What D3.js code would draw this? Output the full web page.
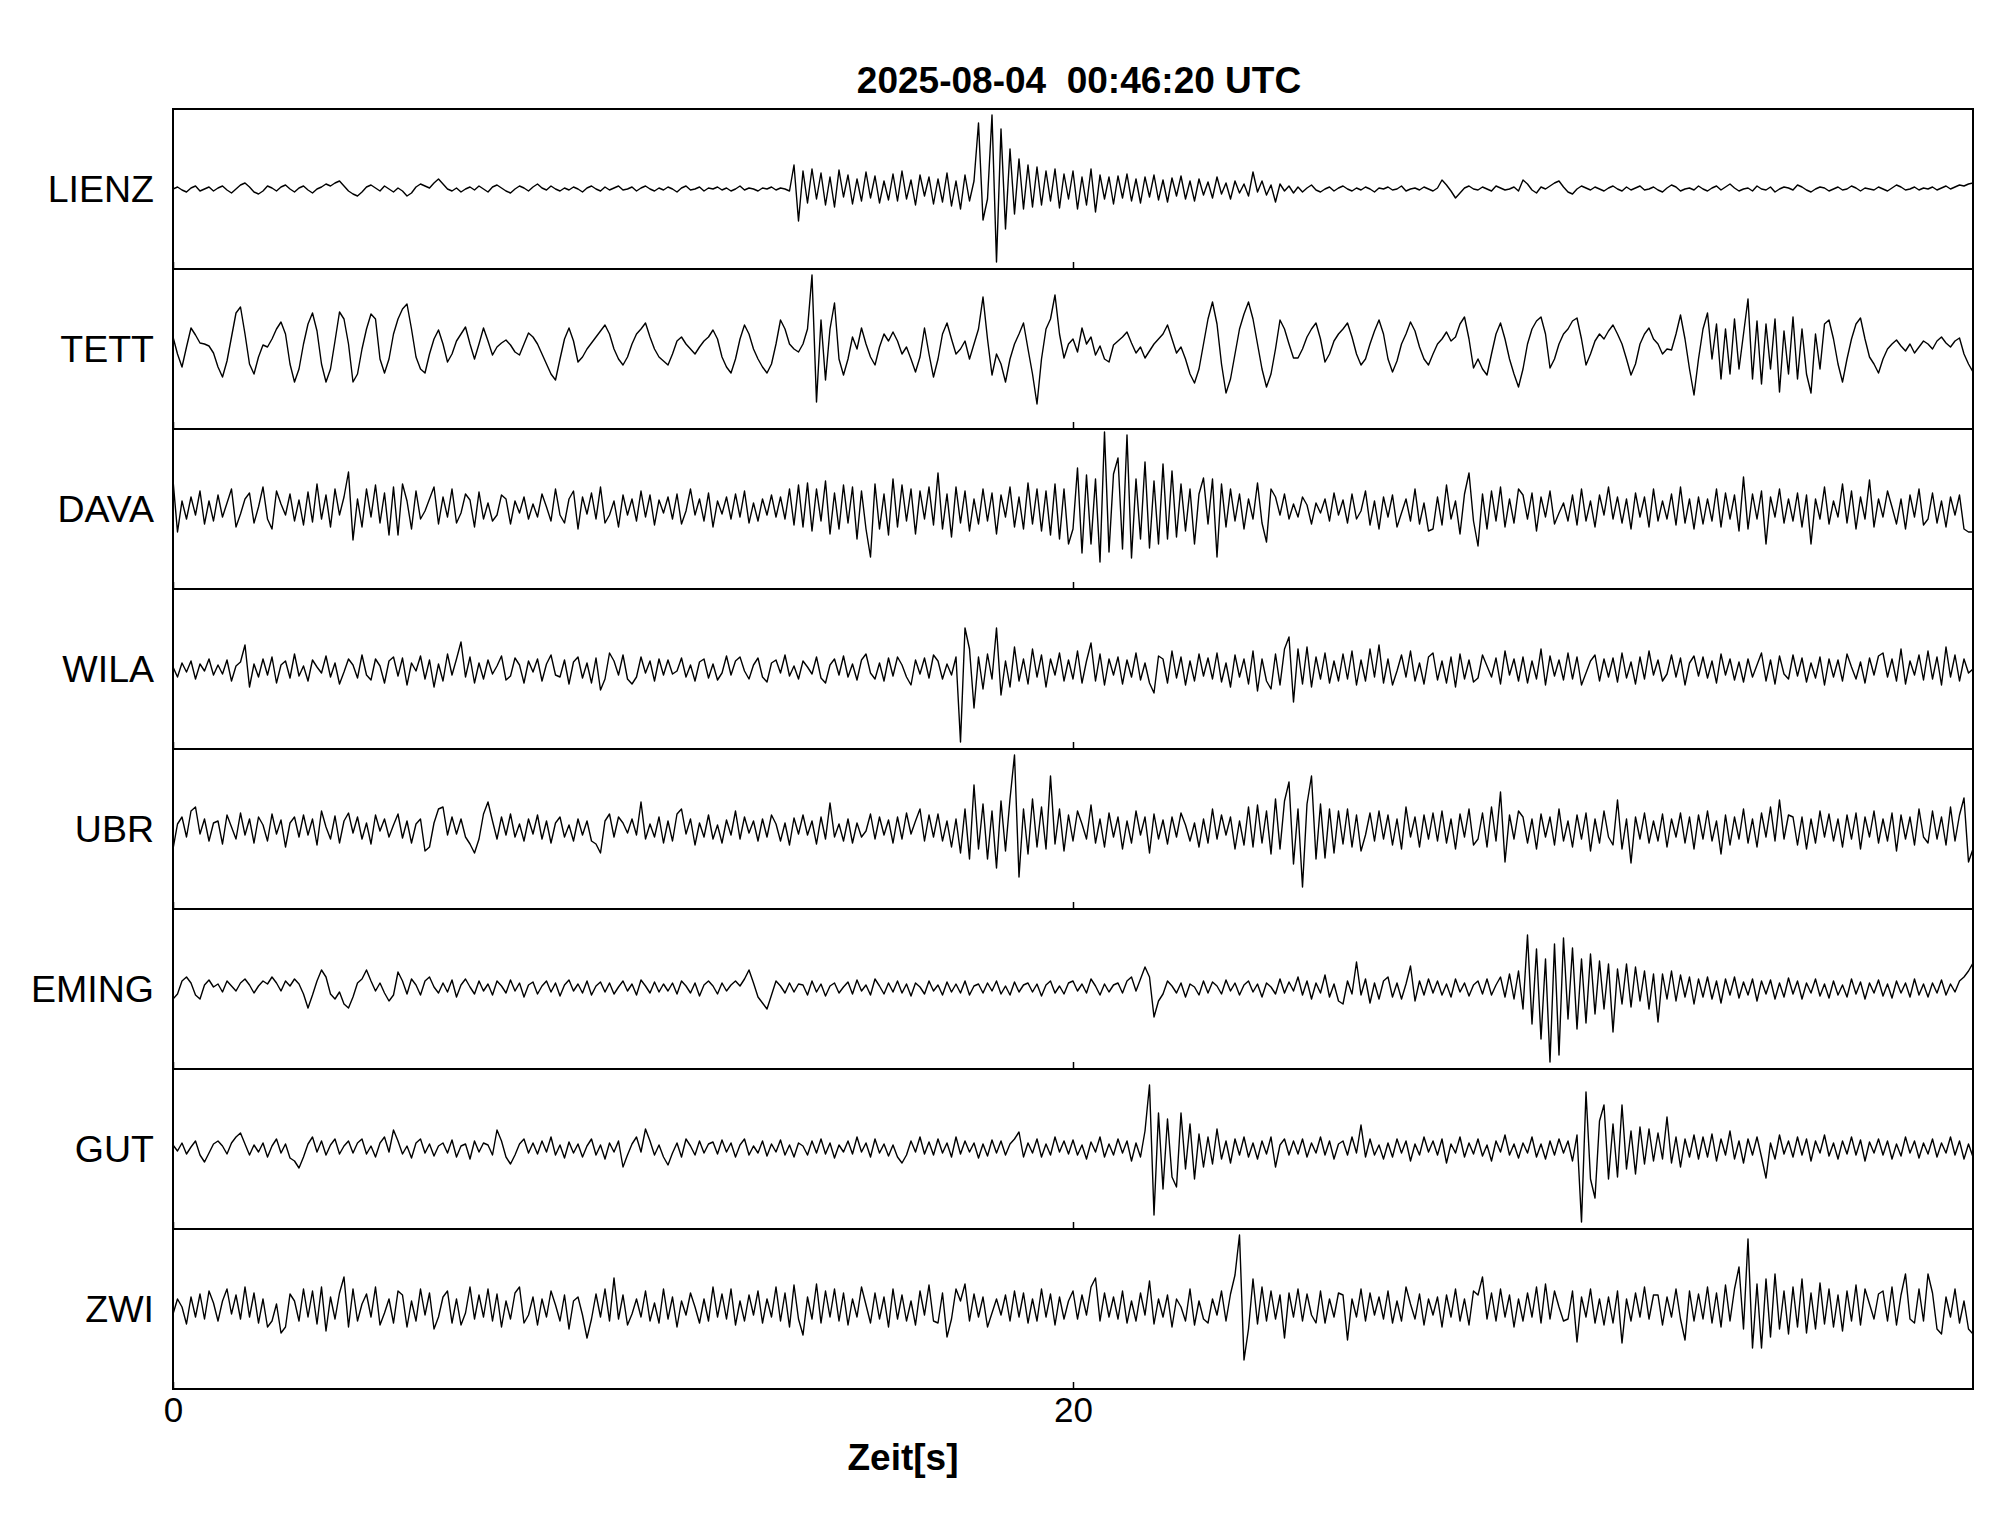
<!DOCTYPE html>
<html>
<head>
<meta charset="utf-8">
<script src="https://d3js.org/d3.v7.min.js"></script>
<style>
    body { margin: 0; background: #fff; }
    text { font-family: "Liberation Sans", Arial, Helvetica, sans-serif; fill: #000; }
</style>
</head>
<body>
<svg id="chart" width="2005" height="1522"></svg>
<script>
// event time and station order, top to bottom
const title = "2025-08-04  00:46:20 UTC";
const xLabel = "Zeit[s]";
const stations = ["LIENZ", "TETT", "DAVA", "WILA", "UBR", "EMING", "GUT", "ZWI"];
const xTicks = [0, 20];
const duration = 40;   // seconds shown
const dt = 0.1;        // sample spacing [s]

// normalised ground velocity per station, one row = one second
const LIENZ = [
    0,2,-1,-3,1,3,-2,0,2,-2,
    1,3,-1,-4,0,4,6,2,-3,-5,
    -2,3,1,-2,2,4,0,-3,1,3,
    -1,-4,0,2,5,3,6,8,3,-2,
    -5,-7,-3,2,4,1,-2,3,0,-3,
    1,-2,-7,-4,2,5,3,1,6,10,
    5,0,-2,1,-3,0,2,-1,3,0,
    -3,2,4,1,-2,-4,0,3,1,-2,
    2,5,1,-1,3,0,-2,1,-1,2,
    0,-3,1,3,0,-2,2,-1,1,3,
    -1,0,2,-2,1,3,0,-2,1,-1,
    2,0,-3,1,3,-1,0,2,-2,1,
    0,2,-1,1,-2,0,3,-1,1,0,
    -2,1,0,2,-1,1,0,-2,24,-32,
    18,-14,20,-10,16,-16,12,-18,19,-8,
    14,-15,10,-12,17,-9,13,-14,8,-11,
    15,-12,18,-10,9,-16,14,-7,12,-15,
    10,-13,16,-17,8,-20,14,-12,8,66,
    -31,-10,74,-73,60,-40,40,-25,30,-20,
    24,-18,22,-16,18,-12,20,-19,15,-10,
    18,-20,12,-16,20,-23,14,-10,12,-15,
    13,-9,15,-12,10,-14,12,-8,14,-11,
    9,-13,11,-7,13,-10,8,-12,10,-6,
    7,-9,12,-5,6,-10,8,-4,5,-7,
    17,-3,8,-6,4,-13,5,-2,3,-4,
    2,-3,1,4,-1,-3,0,2,-2,1,
    3,0,-2,1,-1,2,0,-3,1,0,
    2,-1,0,3,-2,0,1,-1,2,0,
    -2,1,9,4,-2,-9,-4,1,3,0,
    -1,2,0,-2,3,1,-1,0,2,-2,
    9,5,-1,-4,2,0,3,6,8,2,
    -3,-5,0,3,1,-1,2,0,-2,1,
    3,0,-2,2,-1,1,3,-1,0,2,
    -1,-3,1,4,2,-2,0,1,-1,3,
    0,-2,1,3,-1,2,5,1,-2,0,
    1,-2,3,0,-1,2,-3,0,2,1,
    -1,4,2,-1,-3,0,2,1,-2,0,
    2,-1,0,3,1,-2,1,0,-1,2,
    0,-2,1,4,2,-1,0,2,-1,1,
    0,2,-1,1,3,0,2,4,3,5,
    6
];
const TETT = [
    12,-5,-18,2,21,14,6,5,3,-4,
    -18,-28,-12,12,36,42,15,-15,-25,-8,
    4,2,10,20,27,15,-15,-33,-20,5,
    25,36,18,-15,-33,-20,8,37,30,5,
    -33,-25,0,20,35,30,-10,-24,-10,15,
    30,40,45,20,-8,-20,-24,-5,10,19,
    5,-13,-5,8,15,22,5,-10,5,21,
    8,-6,2,6,9,4,-3,-6,5,16,
    12,5,-5,-15,-25,-31,-10,10,21,8,
    -13,-8,0,6,12,18,24,15,0,-10,
    -16,-8,5,15,20,26,12,0,-8,-12,
    -16,-5,8,12,5,0,-5,2,8,12,
    19,10,-8,-18,-24,-10,10,24,15,0,
    -10,-18,-24,-15,5,29,20,5,0,-3,
    5,20,74,-53,29,-31,20,46,-10,-26,
    -10,12,0,21,5,-8,-16,2,15,8,
    17,8,-5,2,-10,-23,-8,21,-5,-28,
    -10,15,26,10,-5,0,8,-10,5,20,
    52,10,-26,-5,-15,-33,-10,5,15,26,
    0,-25,-55,-10,20,30,54,15,-9,5,
    10,-3,21,5,12,-6,3,-10,-13,4,
    8,12,17,6,-4,2,-9,-2,5,10,
    15,24,10,-4,2,-10,-25,-34,-20,5,
    30,47,25,-15,-44,-30,-5,20,35,47,
    30,5,-20,-38,-25,0,29,20,5,-9,
    -9,0,12,20,26,10,-13,-5,8,15,
    20,26,12,-5,-16,-10,5,18,29,15,
    -10,-23,-12,5,15,27,18,2,-10,-16,
    -5,5,10,17,8,12,25,32,10,-19,
    -10,-20,-26,-5,15,26,10,-10,-25,-38,
    -20,5,20,28,32,15,-19,-10,5,15,
    20,28,31,10,-16,-5,8,15,10,18,
    24,15,5,-10,-26,-15,5,15,21,10,
    5,-5,0,-1,15,34,10,-20,-46,-10,
    20,36,-10,25,-30,20,-25,30,-20,15,
    50,-30,28,-35,25,-20,30,-43,18,-25,
    32,-30,20,-25,-44,15,-20,25,29,10,
    -15,-33,-10,10,25,31,10,-8,-15,-24,
    -10,0,5,9,3,-2,5,-4,2,8,
    5,0,8,12,6,2,8,11,-5,-15,
    -23
];
const DAVA = [
    29,-23,8,-10,12,-6,18,-15,8,-12,
    14,-8,6,20,-18,-5,10,16,-14,2,
    22,-10,-20,18,5,-6,15,-12,9,-16,
    17,-13,25,-10,14,-18,20,-6,12,37,
    -31,10,-18,20,-8,24,-14,16,-26,22,
    -26,25,8,-20,18,-10,-2,10,22,-15,
    12,-8,20,-14,-4,15,9,-18,17,-10,
    6,-12,-6,14,10,-15,8,-4,12,-10,
    5,-8,15,2,-12,20,-6,-14,10,18,
    -20,12,-5,16,-10,22,-14,-6,8,-18,
    14,-6,10,-12,18,-8,14,-16,9,-4,
    12,-10,15,-15,-2,20,-6,10,-12,16,
    -18,8,-5,12,-10,15,-8,18,-14,6,
    -12,10,-6,14,-8,12,-10,20,-16,24,
    -18,26,-22,20,-12,28,-25,16,-20,24,
    -14,22,-30,18,-20,-48,25,-20,15,-26,
    30,-18,24,-12,20,-25,18,-10,22,-16,
    36,-20,15,-28,22,-14,18,-22,10,-15,
    20,-12,16,-25,14,-8,22,-18,12,-20,
    26,-15,20,-22,18,-26,25,-30,20,-35,
    -20,41,-44,34,-35,30,-53,77,-43,35,
    51,-40,74,-49,30,-30,47,-39,28,-35,
    45,-30,38,-28,25,-22,20,-35,15,31,
    -15,30,-48,25,-18,20,-12,15,-20,10,
    -10,26,-14,-33,20,12,-6,15,-10,5,
    -8,12,4,-15,6,-4,10,-12,16,-6,
    9,-14,15,-10,-2,18,-16,8,-20,12,
    -8,14,-18,-4,10,-12,20,-15,6,-22,
    -20,12,-16,24,-10,8,-25,15,36,-12,
    -37,15,-20,18,-12,22,-18,10,-14,20,
    14,-10,16,-22,12,-8,18,-15,-4,6,
    -12,14,-16,20,-12,8,-18,14,-6,22,
    -10,12,-14,10,-20,16,-8,12,-18,20,
    -12,8,-10,15,-16,22,-14,10,-20,12,
    -15,10,-12,20,-18,16,-10,14,-22,32,
    -20,15,-10,18,-35,12,-8,20,-14,10,
    -12,16,-18,14,-35,10,-10,22,-15,8,
    -8,25,-14,18,-20,12,-10,29,-18,10,
    -8,18,2,-15,10,-20,14,-8,20,-16,
    -10,16,-14,8,-18,12,-6,14,-20,-23,
    -23
];
const WILA = [
    2,-8,6,-3,8,-10,5,-2,10,-6,
    4,-5,9,-12,3,7,24,-18,5,-8,
    10,-6,12,-14,4,8,-9,15,-7,3,
    -12,9,2,-4,13,-8,6,-15,-3,10,
    4,-9,14,-6,-11,10,3,-14,8,12,
    -7,11,-16,6,-2,13,-10,9,-18,5,
    -12,15,-6,10,27,-8,12,-14,6,-10,
    9,-5,3,13,-11,-7,11,4,-14,8,
    -3,10,-12,5,14,-6,-8,9,-15,7,
    12,-9,6,-14,11,-21,-10,16,8,-6,
    14,-10,-15,-8,12,-4,8,-12,10,-6,
    9,-5,-2,11,-8,4,-12,7,10,-9,
    5,-11,-4,13,-6,8,12,-2,-10,4,
    11,-8,-13,6,9,-4,14,-7,3,-10,
    8,2,-5,12,-9,-14,4,10,-6,13,
    -8,5,-11,9,15,-4,-10,6,-12,11,
    -7,12,4,-8,-16,9,-5,11,-9,14,
    8,-10,5,-6,12,-73,41,20,-39,12,
    -20,15,-10,41,-26,8,-18,22,-12,10,
    -15,20,-8,14,-18,10,-6,16,-12,9,
    -10,18,-14,8,26,-12,15,-16,10,-6,
    12,-15,9,-8,16,-11,6,-14,-24,13,
    10,-14,18,-9,12,-16,8,-12,15,-7,
    11,-10,16,-13,6,-18,14,-8,10,-15,
    18,-22,10,-12,-20,15,-16,20,32,-33,
    20,-15,22,-18,12,-10,16,-14,8,-12,
    15,-10,18,-16,9,-12,20,-8,24,-14,
    10,-16,-2,14,-8,18,-12,6,-15,12,
    16,-11,8,-14,12,-18,15,-10,9,-13,
    -9,14,3,-8,11,-15,18,-6,10,-12,
    12,-14,8,-10,20,-16,13,-7,9,-11,
    16,-10,12,-16,-4,8,14,-12,10,-8,
    11,-13,16,-9,7,-15,12,-10,18,-6,
    9,-12,-5,14,-8,11,-16,6,13,-7,
    12,-9,8,-14,15,-6,10,-11,7,-13,
    10,-8,4,16,-12,9,-15,13,-5,-10,
    14,-7,11,-13,6,-9,12,-16,10,-8,
    9,-12,15,2,-10,7,-14,11,-6,13,
    16,-8,10,-12,20,-15,8,-6,14,-11,
    18,-10,12,-16,22,-8,14,-12,10,-4,
    0
];
const UBR = [
    -20,5,12,-8,18,22,-5,10,-12,6,
    8,-15,14,2,-10,16,-6,10,-14,12,
    4,-12,15,-5,9,-18,6,12,-8,14,
    -6,10,-16,18,2,-10,13,-14,8,16,
    -4,12,-10,6,-15,14,-2,10,-8,4,
    15,-9,8,-14,5,10,-22,-18,6,20,
    22,-6,12,-5,10,-8,-15,-24,-10,15,
    27,8,-10,12,-6,15,-8,5,-12,10,
    -5,14,-10,8,-14,6,12,-8,4,-12,
    10,-6,8,-12,-15,-24,8,15,-8,12,
    6,-4,10,-6,27,-10,5,-8,12,-14,
    8,-12,15,20,-5,10,-16,6,-8,14,
    -10,4,-14,9,-6,18,-10,12,-4,8,
    -12,10,-8,14,5,-12,6,-16,11,-5,
    14,-6,8,-15,12,-10,26,-8,5,-12,
    10,-14,6,-8,-2,15,-10,12,-6,9,
    -14,12,-10,16,-5,8,20,-12,14,-8,
    15,-12,8,-18,10,-24,20,-30,44,-20,
    25,-30,18,-39,28,-22,30,74,-48,20,
    -25,30,-18,22,-20,53,-15,20,-22,14,
    -12,18,5,-10,24,-14,10,-18,16,-8,
    12,-20,8,-14,18,-6,12,-24,15,-10,
    9,-15,12,-8,16,4,-12,6,-18,10,
    -14,20,-10,14,-6,12,-20,8,-16,22,
    -18,24,-14,18,-25,30,-20,28,47,-35,
    20,-58,25,53,-30,25,-29,20,-24,18,
    -15,20,-18,14,-22,-6,16,-12,18,-10,
    14,-16,10,-20,22,-8,12,-18,14,-10,
    16,-12,18,-14,10,-20,15,-8,20,-16,
    -10,16,-18,22,-12,37,-33,14,-10,18,
    12,-14,10,-20,15,-8,12,-16,20,-12,
    8,-18,14,-10,16,-22,10,-14,18,-8,
    -16,29,-20,10,-34,12,-10,16,-14,8,
    -12,15,-18,10,-8,16,-14,12,-20,14,
    -10,18,-12,8,-25,14,-16,12,-10,20,
    -14,10,-18,16,-8,22,-12,29,-10,14,
    12,-16,12,-20,10,-14,18,-8,15,-12,
    10,-18,14,-10,16,-20,12,-8,18,-14,
    10,-12,16,-22,14,-10,12,-16,20,-8,
    -14,18,-10,12,-16,22,-12,14,31,-33,
    -20
];
const EMING = [
    -10,-5,8,12,6,-6,-10,4,9,2,
    5,-3,8,3,-2,6,10,4,-4,3,
    8,5,12,6,-2,8,3,10,5,-5,
    -19,-6,8,19,12,-5,-10,-3,-15,-19,
    -8,6,10,19,8,-2,6,-4,-12,-6,
    17,8,-5,10,4,-6,8,12,2,-4,
    6,-3,9,-8,4,10,2,-5,8,-2,
    5,-6,8,3,-4,9,-2,6,-8,4,
    7,-5,3,8,-3,6,-7,4,9,-2,
    5,-4,8,-6,3,7,-3,6,-5,2,
    8,-2,5,-6,9,3,-4,7,-3,5,
    -2,6,-5,8,3,-4,6,-7,4,8,
    3,-5,6,-2,4,8,3,10,19,6,
    -8,-14,-20,-6,8,3,-4,6,-3,5,
    4,-6,8,-3,5,-7,3,6,-4,2,
    7,-5,9,-2,4,-6,10,3,-5,6,
    -3,8,-4,5,-7,6,2,-5,8,-2,
    4,-6,7,-3,5,-4,8,-6,3,5,
    -4,6,-2,8,-5,3,-6,7,-3,4,
    6,-3,5,-7,4,8,-4,3,-5,6,
    8,-2,5,-4,10,3,-6,5,-3,4,
    6,-4,8,12,-2,10,22,12,-28,-12,
    -5,8,3,-4,6,-8,5,2,-6,8,
    -4,7,3,-5,9,-2,6,-6,4,8,
    -3,5,-8,6,2,-5,10,-4,7,-2,
    12,-6,8,-10,6,-4,14,-8,5,-12,
    -15,8,-5,27,-6,10,-14,6,-10,8,
    12,-8,6,-10,5,23,-12,8,-6,10,
    -4,8,-6,5,-8,10,-3,6,-7,4,
    8,-5,10,-6,4,12,-8,15,-10,18,
    -20,54,-35,40,-50,30,-73,45,-66,51,
    -30,41,-40,30,-34,35,-25,28,-20,25,
    -43,20,-15,25,-18,22,-12,18,-20,15,
    -33,15,-10,18,-12,14,-8,12,-15,10,
    -8,12,-10,8,-14,10,-6,12,-9,7,
    -6,10,-12,8,-5,9,-10,6,-8,11,
    -5,8,-10,6,-4,10,-7,5,-9,8,
    -6,4,-8,10,-5,7,-10,6,-4,9,
    -7,5,-9,8,-4,6,-8,10,-6,5,
    -8,6,-4,9,-6,5,-3,8,12,18,
    26
];
const GUT = [
    4,-2,6,-5,2,8,-6,-13,-4,5,
    8,3,-5,6,12,16,5,-6,4,-3,
    6,-8,3,10,-4,5,-9,-12,-19,-8,
    5,12,-3,8,-6,4,10,-5,3,8,
    -4,6,10,-5,3,-8,6,12,-3,19,
    8,-5,3,-9,6,10,-4,5,-7,3,
    6,-4,9,-8,3,5,-10,8,-3,6,
    4,-6,19,8,-8,-15,-6,5,10,-4,
    6,-5,8,-3,12,-6,4,-9,7,-4,
    5,-8,3,10,-6,4,-10,6,-3,8,
    -18,-6,5,12,-3,20,8,-6,4,-8,
    -16,-4,6,-8,10,3,-6,8,-4,5,
    7,-5,9,-3,6,-8,4,10,-6,3,
    -4,8,-7,5,-3,9,-6,4,-8,6,
    3,-6,8,-4,10,-5,6,-9,4,-3,
    8,-5,12,-3,6,-8,10,-4,5,-7,
    4,-8,-14,-6,8,-3,12,-5,7,-6,
    10,-4,6,-8,12,-5,8,-3,6,-9,
    5,-7,9,-4,8,-6,5,10,17,-8,
    6,-4,10,-8,5,-6,12,-3,8,-5,
    9,-6,4,-10,7,-3,12,-8,5,-6,
    10,-4,8,-12,6,-8,18,64,-66,36,
    -40,30,-28,-38,36,-20,25,-30,15,-18,
    12,-15,20,-10,8,-14,10,-6,12,-8,
    6,-10,8,-5,12,-18,4,10,-6,8,
    -5,10,-8,6,-4,12,-6,8,-10,5,
    8,-6,12,-4,24,-8,10,-6,4,-10,
    6,-8,10,-4,8,-12,5,-6,12,-3,
    8,-6,10,-14,5,-4,12,-8,6,-5,
    10,-7,4,-12,8,-3,14,-6,5,-9,
    6,-4,12,-8,5,-10,8,-6,10,-4,
    8,-12,14,-73,57,-30,-49,28,44,-30,
    25,-28,44,-20,18,-25,22,-15,20,-12,
    16,-10,32,-14,12,-18,10,-8,14,-10,
    12,-8,15,-12,10,-6,18,-10,8,-14,
    10,-6,12,-8,-29,6,-10,14,-5,8,
    -8,12,-6,10,-12,8,-4,14,-7,6,
    -10,8,-5,12,-6,9,-12,7,-4,10,
    -6,8,-10,5,-7,12,-4,8,-9,6,
    -5,10,-8,6,-4,12,-6,8,-10,5,
    -8
];
const ZWI = [
    -5,10,2,-15,12,-8,15,-10,18,6,
    -12,8,20,-5,14,-10,22,-8,16,-14,
    10,-18,-12,5,-24,-18,15,8,-12,20,
    -8,18,-15,22,-22,12,-10,16,32,-18,
    20,-12,5,15,-8,22,-16,-4,10,-14,
    18,14,-18,8,-12,20,-6,16,-20,-8,
    12,18,-14,10,-16,-4,22,-10,14,-8,
    20,-12,15,-18,8,-10,16,22,-14,-6,
    12,-16,10,-8,18,4,-12,14,-20,8,
    12,-6,-29,-10,15,-8,20,-12,31,-10,
    14,-16,-5,10,-8,18,-12,6,-14,20,
    -10,12,-18,8,-6,16,2,-14,10,-12,
    22,-8,15,-10,20,-16,8,-12,14,-6,
    18,-14,10,-8,22,-12,16,-18,24,-10,
    -26,12,-10,25,-14,18,-8,20,-12,16,
    -16,10,-8,22,4,-14,16,-10,12,-18,
    20,-10,14,-12,8,-16,18,-6,24,-12,
    -14,16,-28,-10,20,8,25,-12,15,-8,
    12,-18,-4,10,-6,14,-12,18,-8,16,
    -14,10,-12,20,-8,15,-16,12,-10,8,
    18,-10,14,-6,22,31,-12,16,-8,12,
    -10,18,-14,8,-12,16,-6,28,-15,10,
    -8,14,-18,10,2,-12,20,-16,8,-10,
    -14,10,-6,18,-12,15,34,74,-51,-20,
    30,-15,22,-12,18,-10,14,-29,16,-8,
    20,-12,15,-6,-14,18,-14,10,-8,16,
    14,-31,10,-8,20,-12,16,-6,12,-10,
    18,-14,8,-12,22,5,-10,15,-16,10,
    -6,12,-18,14,-8,20,-12,10,-16,18,
    14,32,-10,16,-12,20,-8,14,-18,10,
    -12,16,-8,22,-14,25,-10,18,2,-12,
    -10,18,-33,12,-8,20,-14,10,-16,12,
    -14,18,-34,10,-12,16,-8,22,-10,14,
    14,-16,12,-8,20,-10,-31,18,-12,15,
    -10,22,-14,16,-18,24,-12,20,42,-20,
    70,-39,25,-39,30,-28,35,-20,18,-25,
    22,-18,30,-24,16,-20,26,-15,20,-18,
    14,-22,18,-12,24,-16,20,5,-10,15,
    18,-12,22,-16,14,35,-10,-14,20,-12,
    35,16,-20,-25,12,-8,20,-14,8,-20,
    -25
];

(() => {
    const traces = { LIENZ, TETT, DAVA, WILA, UBR, EMING, GUT, ZWI };
    let svg = d3.select("#chart"),
        left = 173, right = 1973, top = 109, bottom = 1389;

    svg.append("rect").attr("width", 2005).attr("height", 1522).attr("fill", "#fff");

    let x = d3.scaleLinear().domain([0, duration]).range([left, right]);
    let row = d3.scaleBand().domain(stations).range([top, bottom]);
    // each panel holds +-80 units
    let amp = d3.scaleLinear().domain([-80, 80]).range([row.bandwidth(), 0]);

    let line = d3.line()
        .x((d, i) => x(i * dt))
        .y(d => amp(d));

    svg.append("clipPath").attr("id", "clip")
        .append("rect")
        .attr("x", left).attr("y", 0)
        .attr("width", right - left).attr("height", row.bandwidth());

    let panels = svg.selectAll(".panel")
        .data(stations)
        .join("g")
        .attr("class", "panel")
        .attr("transform", d => `translate(0,${row(d)})`);

    //waveforms
    panels.append("path")
        .datum(d => traces[d])
        .attr("clip-path", "url(#clip)")
        .attr("fill", "none")
        .attr("stroke", "#000")
        .attr("stroke-width", 1.4)
        .attr("stroke-linejoin", "round")
        .attr("d", line);

    //inner tick at the bottom of every panel
    panels.append("g")
        .attr("transform", `translate(0,${row.bandwidth()})`)
        .call(d3.axisBottom(x).tickValues(xTicks).tickSize(-7).tickFormat(""))
        .call(g => g.select(".domain").remove())
        .selectAll("line").attr("stroke-width", 1.5);

    //frames
    panels.append("rect")
        .attr("x", left)
        .attr("width", right - left)
        .attr("height", row.bandwidth())
        .attr("fill", "none")
        .attr("stroke", "#000")
        .attr("stroke-width", 2);

    //station names
    panels.append("text")
        .attr("x", 154)
        .attr("y", row.bandwidth() / 2 + 13)
        .attr("text-anchor", "end")
        .attr("font-size", 37.5)
        .text(d => d);

    //time axis labels
    svg.append("g")
        .attr("transform", `translate(0,${bottom})`)
        .call(d3.axisBottom(x).tickValues(xTicks).tickSize(0).tickPadding(8))
        .call(g => g.select(".domain").remove())
        .selectAll("text")
        .attr("font-family", null)
        .attr("font-size", 35);
    svg.selectAll(".tick text").style("font-family", '"Liberation Sans", Arial, sans-serif');

    svg.append("text")
        .attr("x", 903)
        .attr("y", 1470)
        .attr("text-anchor", "middle")
        .attr("font-size", 37)
        .attr("font-weight", "bold")
        .text(xLabel);

    svg.append("text")
        .attr("x", 1079)
        .attr("y", 93)
        .attr("text-anchor", "middle")
        .attr("font-size", 37)
        .attr("font-weight", "bold")
        .style("white-space", "pre")
        .text(title);
})();
</script>
</body>
</html>
